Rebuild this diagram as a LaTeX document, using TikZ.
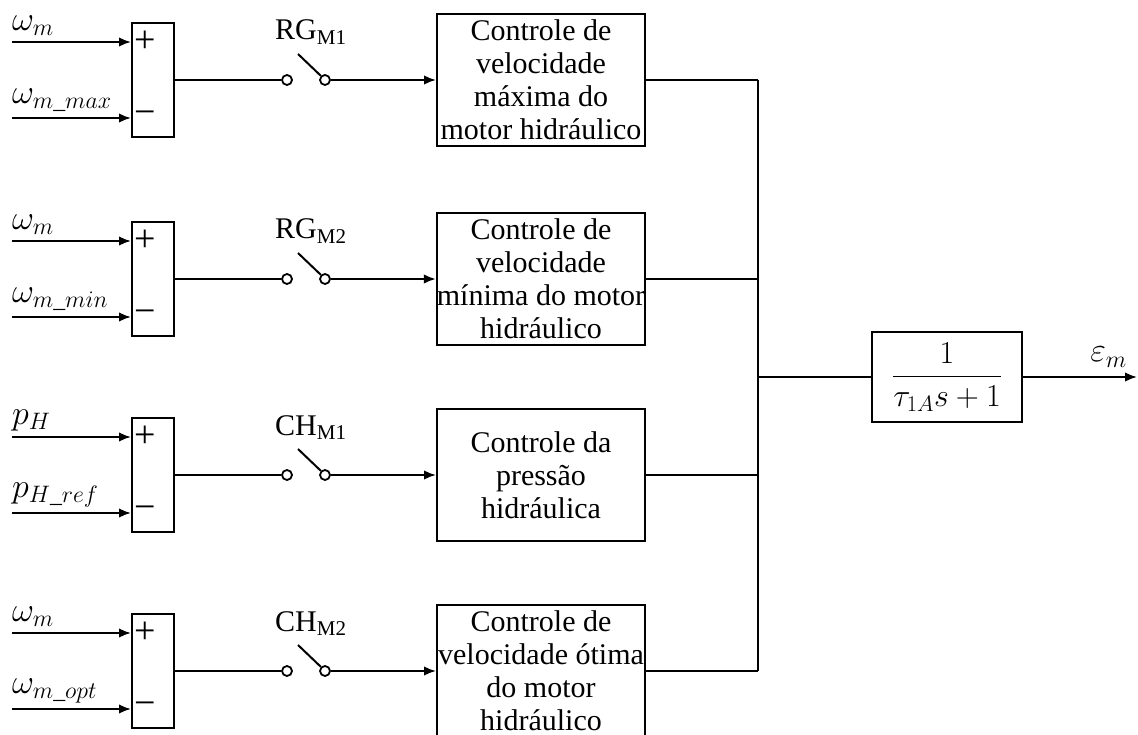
\RequirePackage{fix-cm}
\documentclass[tikz,border=0pt]{standalone}
\usepackage{amsmath}
\usepackage{fontspec}
\setmainfont{Liberation Serif}
\usetikzlibrary{arrows.meta,positioning}
\tikzset{
  ctrlbox/.style={draw,line width=2pt,minimum width=208pt,minimum height=132pt,align=center,inner sep=0pt},
  sumbox/.style={draw,line width=2pt,minimum width=42pt,minimum height=114pt},
  sign/.style={inner sep=0pt,font=\fontsize{38}{40}\selectfont},
  lbl/.style={anchor=south west,inner sep=0pt,font=\fontsize{34}{36}\selectfont},
  pin/.style={draw,circle,line width=1.8pt,inner sep=0pt,minimum size=10pt},
  wire/.style={line width=2pt},
  sig/.style={line width=2pt,-{Latex[length=12pt,width=9.5pt]}},
}
\begin{document}
\begin{tikzpicture}[x=1pt,y=-1pt,font=\fontsize{30}{33}\selectfont]
\useasboundingbox (0,0) rectangle (1138,735);
\foreach \y/\inp/\inm/\swl/\txt [count=\i] in {
  80/\omega_m/\omega_{m\_max}/RG\textsubscript{M1}/{Controle de\\velocidade\\máxima do\\motor hidráulico},
  279/\omega_m/\omega_{m\_min}/RG\textsubscript{M2}/{Controle de\\velocidade\\mínima do motor\\hidráulico},
  475/p_H/p_{H\_ref}/CH\textsubscript{M1}/{Controle da\\pressão\\hidráulica},
  671/\omega_m/\omega_{m\_opt}/CH\textsubscript{M2}/{Controle de\\velocidade ótima\\do motor\\hidráulico}}
{
  \node[sumbox] (s\i) at (153,\y) {};
  \node[sign] (plus\i) at (145,\y-38) {+};
  \node[sign] (minus\i) at (145,\y+38) {−};
  \coordinate (ip\i) at (12,\y-38);
  \coordinate (im\i) at (12,\y+38);
  \node[lbl] (lp\i) at (12,\y-44) {$\inp$};
  \node[lbl] (lm\i) at (12,\y+32) {$\inm$};
  \draw[sig] (ip\i) -- (ip\i -| s\i.west);
  \draw[sig] (im\i) -- (im\i -| s\i.west);
  \node[pin] (pa\i) at (287,\y) {};
  \node[pin] (pb\i) at (325,\y) {};
  \coordinate (bl\i) at (298,\y-26);
  \draw[wire] (bl\i) -- (pb\i.north west);
  \node[anchor=base west,inner sep=0pt] (sw\i) at (275,\y-40) {\swl};
  \node[ctrlbox] (c\i) at (541,\y) {\txt};
  \coordinate (b\i) at (758,\y);
  \draw[wire] (s\i.east) -- (pa\i.west);
  \draw[sig] (pb\i.east) -- (c\i.west);
  \draw[wire] (c\i.east) -- (b\i);
}
\draw[wire] (b1) -- (b4);
\coordinate (j) at (758,377);
\node[draw,line width=2pt,minimum width=150pt,minimum height=90pt,font=\fontsize{32}{34}\selectfont] (tf) at (947,377) {$\dfrac{1}{\tau_{1A}s+1}$};
\coordinate (out) at (1137,377);
\draw[wire] (j) -- (tf.west);
\draw[sig] (tf.east) -- (out);
\node[anchor=base east,inner sep=0pt,font=\fontsize{34}{36}\selectfont] (eps) at (1127,362) {$\varepsilon_m$};
\end{tikzpicture}
\end{document}
